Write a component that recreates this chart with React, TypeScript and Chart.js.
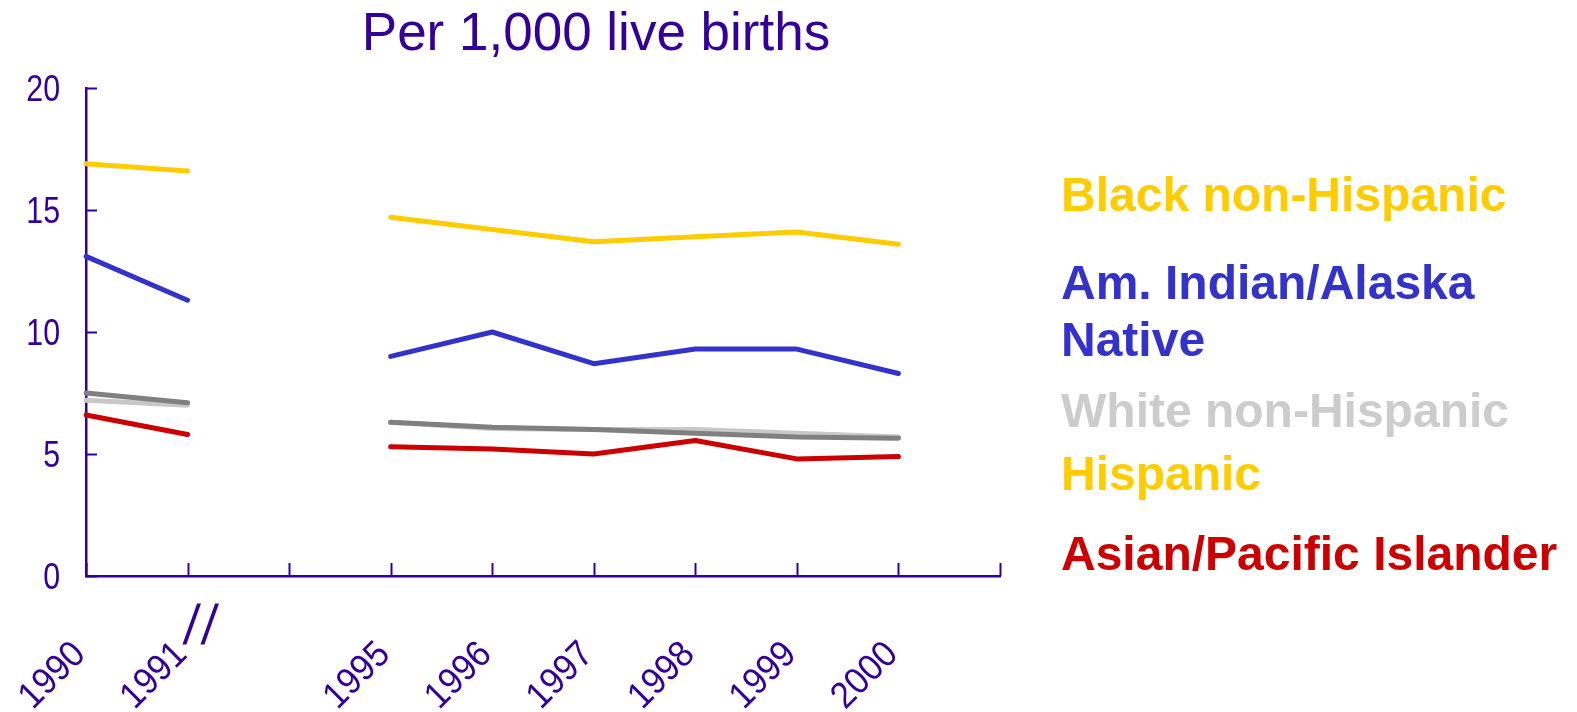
import React, { useEffect, useRef } from "react";
import { Chart, registerables } from "chart.js";

Chart.register(...registerables);

const years = ["1990", "1991", "", "1995", "1996", "1997", "1998", "1999", "2000", ""];
const blackNH = [16.9, 16.6, null, 14.7, 14.2, 13.7, 13.9, 14.1, 13.6, null];
const amIndian = [13.1, 11.3, null, 9.0, 10.0, 8.7, 9.3, 9.3, 8.3, null];
const hispanic = [7.5, 7.1, null, 6.3, 6.1, 6.0, 5.85, 5.7, 5.65, null];
const whiteNH = [7.2, 7.0, null, 6.3, 6.05, 6.0, 6.0, 5.85, 5.7, null];
const asianPI = [6.6, 5.8, null, 5.3, 5.2, 5.0, 5.55, 4.8, 4.9, null];
const yTicks = [0, 5, 10, 15, 20];
const breakMark = "/";

const legendItems = [
  { text: "Black non-Hispanic", color: "#FFCC00", top: 171 },
  { text: "Am. Indian/Alaska", color: "#3333CC", top: 259 },
  { text: "Native", color: "#3333CC", top: 316 },
  { text: "White non-Hispanic", color: "#CCCCCC", top: 387 },
  { text: "Hispanic", color: "#FFCC00", top: 450 },
  { text: "Asian/Pacific Islander", color: "#CC0000", top: 530 },
];

const AXIS = "#330099";
const FONT = '"Liberation Sans", Arial, sans-serif';
const Y_SQUEEZE = 0.82;
const X_SQUEEZE = 0.93;

const customAxes = {
  id: "customAxes",
  afterDraw(chart: any) {
    const ctx = chart.ctx;
    const xs = chart.scales.x;
    const ys = chart.scales.y;
    const area = chart.chartArea;
    ctx.save();
    ctx.strokeStyle = AXIS;
    ctx.lineWidth = 2;
    // inward ticks
    ys.ticks.forEach((t: any) => {
      const y = Math.round(ys.getPixelForValue(t.value)) + 0.5;
      ctx.beginPath();
      ctx.moveTo(area.left, y);
      ctx.lineTo(area.left + 11, y);
      ctx.stroke();
    });
    for (let i = 0; i < years.length; i++) {
      const x = Math.round(xs.getPixelForTick(i)) + 0.5;
      ctx.beginPath();
      ctx.moveTo(x, area.bottom);
      ctx.lineTo(x, area.bottom - 13);
      ctx.stroke();
    }
    // tick labels (condensed)
    ctx.fillStyle = AXIS;
    ctx.font = `37px ${FONT}`;
    ctx.textAlign = "right";
    ctx.textBaseline = "alphabetic";
    ys.ticks.forEach((t: any) => {
      const y = ys.getPixelForValue(t.value);
      ctx.save();
      ctx.translate(area.left - 26, y + 13);
      ctx.scale(Y_SQUEEZE, 1);
      ctx.fillText(String(t.value), 0, 0);
      ctx.restore();
    });
    for (let i = 0; i < years.length; i++) {
      const lab = years[i];
      if (!lab) continue;
      const x = xs.getPixelForTick(i);
      ctx.save();
      ctx.translate(x + 1, area.bottom + 80);
      ctx.rotate(-Math.PI / 4);
      ctx.scale(X_SQUEEZE, 1);
      ctx.fillText(lab, 0, 0);
      ctx.restore();
    }
    // axis break mark after 1991
    const bx = xs.getPixelForTick(1);
    ctx.font = `56px ${FONT}`;
    ctx.textAlign = "left";
    [bx - 5, bx + 13].forEach((px) => {
      ctx.save();
      ctx.transform(0.9, 0, -0.11, 1, px, area.bottom + 68);
      ctx.fillText(breakMark, 0, 0);
      ctx.restore();
    });
    ctx.restore();
  },
};

export default function App() {
  const ref = useRef<HTMLCanvasElement>(null);
  useEffect(() => {
    const mk = (data: any[], color: string) => ({
      data,
      borderColor: color,
      backgroundColor: color,
      borderWidth: 5,
      pointRadius: 0,
      tension: 0,
      spanGaps: false,
      borderCapStyle: "round",
      borderJoinStyle: "round",
    });
    const chart = new Chart(ref.current!, {
      type: "line",
      data: {
        labels: years,
        datasets: [
          mk(blackNH, "#FFCC00"),
          mk(amIndian, "#3333CC"),
          mk(asianPI, "#CC0000"),
          mk(hispanic, "#808080"),
          mk(whiteNH, "#C8C8C8"),
        ] as any,
      },
      options: {
        animation: false,
        responsive: false,
        devicePixelRatio: 1,
        layout: { padding: { left: 0, top: 88, right: 577, bottom: 0 } },
        plugins: { legend: { display: false }, tooltip: { enabled: false }, title: { display: false } },
        scales: {
          x: {
            type: "category",
            offset: false,
            grid: { display: true, drawOnChartArea: false, drawTicks: false },
            border: { display: true, color: AXIS, width: 2.5 },
            ticks: { display: false, autoSkip: false },
            afterFit: (s: any) => {
              s.height = 136;
              s.paddingLeft = 0;
              s.paddingRight = 0;
            },
          },
          y: {
            min: 0,
            max: 20,
            afterBuildTicks: (s: any) => {
              s.ticks = yTicks.map((v) => ({ value: v }));
            },
            grid: { display: true, drawOnChartArea: false, drawTicks: false },
            border: { display: true, color: AXIS, width: 2.5 },
            ticks: { display: false },
            afterFit: (s: any) => {
              s.width = 86;
              s.paddingTop = 0;
              s.paddingBottom = 0;
            },
          },
        },
      },
      plugins: [customAxes],
    } as any);
    return () => chart.destroy();
  }, []);

  return (
    <div style={{ position: "fixed", left: 0, top: 0, width: 1577, height: 712, background: "#fff" }}>
      <canvas ref={ref} width={1577} height={712} style={{ display: "block", position: "absolute", left: 0, top: 0 }} />
      <div
        style={{
          position: "absolute",
          left: 0,
          top: 6,
          width: 1192,
          textAlign: "center",
          font: `53px ${FONT}`,
          lineHeight: "52px",
          color: AXIS,
          whiteSpace: "nowrap",
        }}
      >
        Per 1,000 live births
      </div>
      {legendItems.map((it) => (
        <div
          key={it.text}
          style={{
            position: "absolute",
            left: 1061,
            top: it.top,
            font: `bold 48px ${FONT}`,
            lineHeight: "48px",
            color: it.color,
            whiteSpace: "nowrap",
          }}
        >
          {it.text}
        </div>
      ))}
    </div>
  );
}
